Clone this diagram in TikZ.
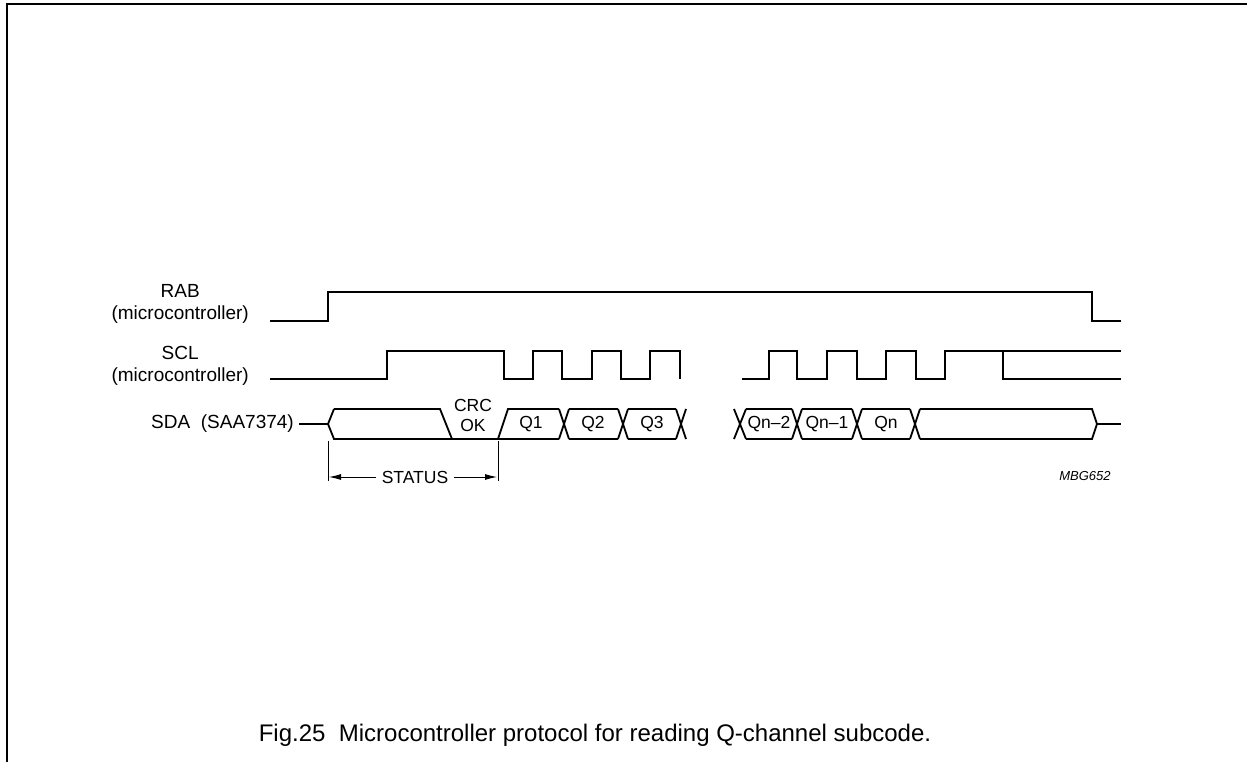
\documentclass[tikz,border=0pt]{standalone}
\usepackage{fontspec}
\setmainfont{Liberation Sans}
\usetikzlibrary{arrows.meta}
\begin{document}
\begin{tikzpicture}[x=1pt,y=-1pt,
  sig/.style={line width=1.8pt, line join=miter},
  dim/.style={line width=0.9pt},
  frameline/.style={line width=2pt},
  lbl/.style={font=\fontsize{19}{22}\selectfont, inner sep=0pt, align=center},
  dlbl/.style={font=\fontsize{17.5}{20}\selectfont, inner sep=0pt, align=center},
  codetext/.style={font=\fontsize{13}{15}\selectfont\itshape, inner sep=0pt},
  captext/.style={font=\fontsize{24}{26}\selectfont, inner sep=0pt},
  arr/.style={dim, -{Latex[length=12pt,width=6pt]}}
]
\useasboundingbox (0,0) rectangle (1247,762);
% frame
\draw[frameline] (7,762) -- (7,4) -- (1247,4);

% labels
\node[lbl, anchor=east] (rabl) at (249,304) {RAB\\(microcontroller)};
\node[lbl, anchor=east] (scll) at (249,366) {SCL\\(microcontroller)};
\node[lbl, anchor=east] (sdal) at (294,424) {SDA\ \ (SAA7374)};

% RAB
\draw[sig] (270,321) -- (328,321) -- (328,292) -- (1092,292) -- (1092,321) -- (1121,321);

% SCL part 1
\draw[sig] (270,379) -- (387,379) -- (387,351) -- (504,351) -- (504,379) -- (533,379) -- (533,351)
  -- (562,351) -- (562,379) -- (592,379) -- (592,351) -- (621,351) -- (621,379) -- (650,379)
  -- (650,351) -- (680,351) -- (680,379);
% SCL part 2
\draw[sig] (742,379) -- (769,379) -- (769,351) -- (797,351) -- (797,379) -- (827,379) -- (827,351)
  -- (857,351) -- (857,379) -- (886,379) -- (886,351) -- (916,351) -- (916,379) -- (945,379)
  -- (945,351) -- (1121,351);
\draw[sig] (1003,351) -- (1003,379) -- (1121,379);

% SDA part 1
\draw[sig] (299,424) -- (328,424);
\draw[sig] (334,409) -- (328,424) -- (334,439) -- (559,439);
\draw[sig] (334,409) -- (440,409) -- (452,439);
\draw[sig] (498,439) -- (508,409) -- (559,409);
\draw[sig] (559,409) -- (569,439) (559,439) -- (569,409);
\draw[sig] (569,409) -- (618,409) (569,439) -- (618,439);
\draw[sig] (618,409) -- (628,439) (618,439) -- (628,409);
\draw[sig] (628,409) -- (676,409) (628,439) -- (676,439);
\draw[sig] (676,409) -- (686,439) (676,439) -- (686,409);

% SDA part 2
\draw[sig] (734,409) -- (746,439) (734,439) -- (746,409);
\draw[sig] (746,409) -- (792,409) (746,439) -- (792,439);
\draw[sig] (792,409) -- (802,439) (792,439) -- (802,409);
\draw[sig] (802,409) -- (852,409) (802,439) -- (852,439);
\draw[sig] (852,409) -- (862,439) (852,439) -- (862,409);
\draw[sig] (862,409) -- (910,409) (862,439) -- (910,439);
\draw[sig] (910,409) -- (920,439) (910,439) -- (920,409);
\draw[sig] (920,409) -- (1092,409) -- (1097,424) -- (1092,439) -- (920,439);
\draw[sig] (1097,424) -- (1121,424);

% data labels
\node[dlbl] (crc) at (473,415) {CRC\\OK};
\node[dlbl] (q1) at (531,424) {Q1};
\node[dlbl] (q2) at (593,424) {Q2};
\node[dlbl] (q3) at (652,424) {Q3};
\node[dlbl] (qn2) at (769,424) {Qn–2};
\node[dlbl] (qn1) at (827,424) {Qn–1};
\node[dlbl] (qn) at (886,424) {Qn};

% status dimension
\coordinate (t1a) at (328,441);
\coordinate (t1b) at (328,481);
\coordinate (t2a) at (498,441);
\coordinate (t2b) at (498,481);
\draw[dim] (t1a) -- (t1b);
\draw[dim] (t2a) -- (t2b);
\node[dlbl] (status) at (415,477) {STATUS};
\coordinate (s1) at (329,477);
\coordinate (s2) at (497,477);
\draw[arr] ([xshift=-6pt]status.west) -- (s1);
\draw[arr] ([xshift=6pt]status.east) -- (s2);

\node[codetext] (mbg) at (1085,476) {MBG652};

% caption
\node[captext] (caption) at (595,735) {Fig.25\ \ Microcontroller protocol for reading Q-channel subcode.};
\end{tikzpicture}
\end{document}
